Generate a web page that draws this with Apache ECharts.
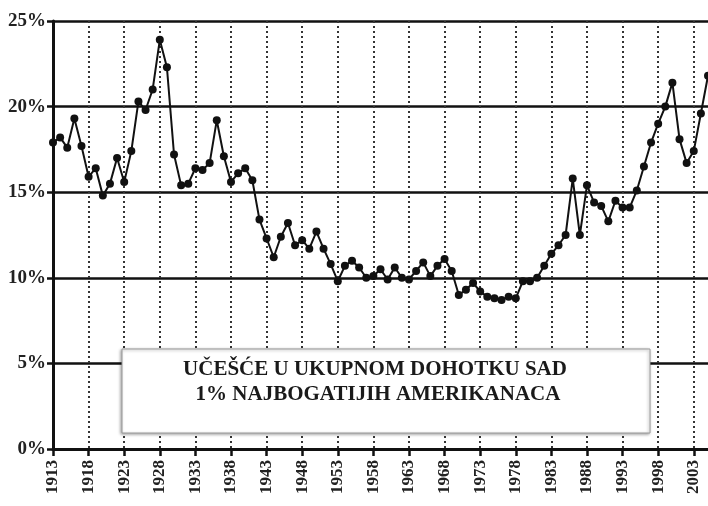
<!DOCTYPE html>
<html>
<head>
<meta charset="utf-8">
<script src="https://cdn.jsdelivr.net/npm/echarts@6/dist/echarts.min.js"></script>
<style>
  html, body { margin: 0; padding: 0; background: #fff; }
  #chart { width: 708px; height: 506px; }
</style>
</head>
<body>
<div id="chart"></div>
<script>
var firstYear = 1913
var lastYear = 2005

// udeo najbogatijih 1% u ukupnom dohotku (%)
var share = [
    17.9, 18.2, 17.6, 19.3, 17.7, 15.9, 16.4, 14.8, 15.5, 17.0,   // 1913-1922
    15.6, 17.4, 20.3, 19.8, 21.0, 23.9, 22.3, 17.2, 15.4, 15.5,   // 1923-1932
    16.4, 16.3, 16.7, 19.2, 17.1, 15.6, 16.1, 16.4, 15.7, 13.4,   // 1933-1942
    12.3, 11.2, 12.4, 13.2, 11.9, 12.2, 11.7, 12.7, 11.7, 10.8,   // 1943-1952
    9.8, 10.7, 11.0, 10.6, 10.0, 10.1, 10.5, 9.9, 10.6, 10.0,     // 1953-1962
    9.9, 10.4, 10.9, 10.1, 10.7, 11.1, 10.4, 9.0, 9.3, 9.7,       // 1963-1972
    9.2, 8.9, 8.8, 8.7, 8.9, 8.8, 9.8, 9.8, 10.0, 10.7,           // 1973-1982
    11.4, 11.9, 12.5, 15.8, 12.5, 15.4, 14.4, 14.2, 13.3, 14.5,   // 1983-1992
    14.1, 14.1, 15.1, 16.5, 17.9, 19.0, 20.0, 21.4, 18.1, 16.7,   // 1993-2002
    17.4, 19.6, 21.8                                              // 2003-2005
]

var titleLines = ['UČEŠĆE U UKUPNOM DOHOTKU SAD', '1% NAJBOGATIJIH AMERIKANACA']

var years = []
for (var y = firstYear; y <= lastYear; y++) years.push(String(y))

var myChart = echarts.init(document.getElementById('chart'))

var serif = 'Liberation Serif'

option = {
    backgroundColor: '#fff',
    animation: false,
    grid: { left: 53, right: 0, top: 21, bottom: 57, containLabel: false },
    xAxis: {
        type: 'category',
        data: years,
        boundaryGap: false,
        axisLine: { show: true, lineStyle: { color: '#111', width: 3 } },
        axisTick: { show: true, interval: 4, length: 7, lineStyle: { color: '#111', width: 2.5 } },
        axisLabel: {
            interval: 4,
            rotate: 90,
            margin: 11,
            color: '#222',
            fontFamily: serif,
            fontWeight: 'bold',
            fontSize: 17
        },
        splitLine: {
            show: true,
            interval: 4,
            lineStyle: { color: '#333', width: 2, type: [2, 3] }
        }
    },
    yAxis: {
        type: 'value',
        min: 0,
        max: 25,
        interval: 5,
        axisLine: { show: true, lineStyle: { color: '#111', width: 3 } },
        axisTick: { show: true, length: 6, lineStyle: { color: '#111', width: 2.5 } },
        axisLabel: {
            formatter: '{value}%',
            margin: 7,
            color: '#222',
            fontFamily: serif,
            fontWeight: 'bold',
            fontSize: 19
        },
        splitLine: { show: true, lineStyle: { color: '#111', width: 2.5 } }
    },
    series: [{
        type: 'line',
        data: share,
        symbol: 'circle',
        symbolSize: 8,
        showAllSymbol: true,
        itemStyle: { color: '#111' },
        lineStyle: { color: '#111', width: 2 },
        z: 5
    }],
    graphic: [
        {
            type: 'rect',
            shape: { x: 122, y: 349, width: 528, height: 84 },
            style: {
                fill: '#fff',
                stroke: '#9a9a9a',
                lineWidth: 1,
                shadowBlur: 3,
                shadowColor: 'rgba(0,0,0,0.35)',
                shadowOffsetX: -1,
                shadowOffsetY: 1
            },
            z: 10
        },
        {
            type: 'text',
            x: 375,
            y: 370,
            style: {
                text: titleLines[0],
                font: 'bold 21px "Liberation Serif"',
                fill: '#1a1a1a',
                align: 'center',
                verticalAlign: 'middle'
            },
            z: 11
        },
        {
            type: 'text',
            x: 378,
            y: 395,
            style: {
                text: titleLines[1],
                font: 'bold 21px "Liberation Serif"',
                fill: '#1a1a1a',
                align: 'center',
                verticalAlign: 'middle'
            },
            z: 11
        }
    ]
}

myChart.setOption(option)
</script>
</body>
</html>
